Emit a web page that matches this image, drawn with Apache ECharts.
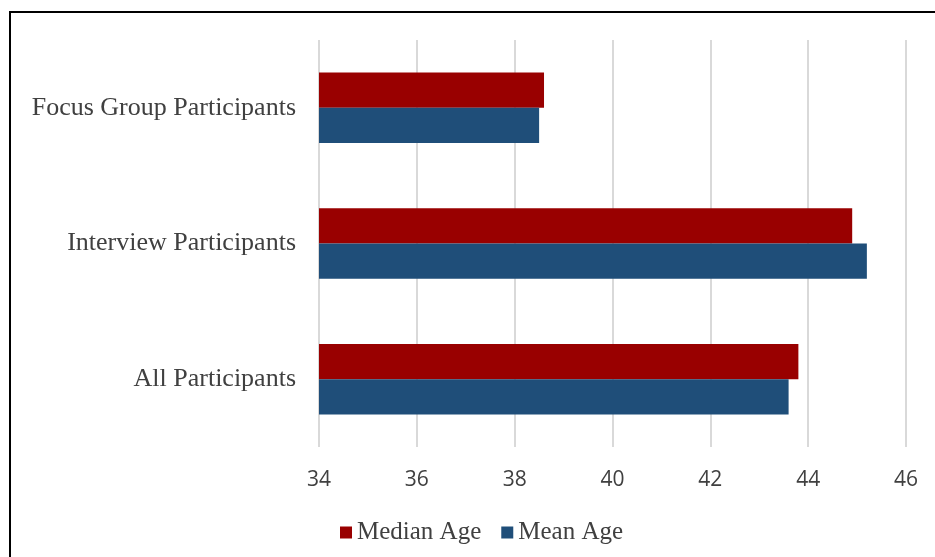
<!DOCTYPE html>
<html>
<head>
<meta charset="utf-8">
<script src="https://cdn.jsdelivr.net/npm/echarts@6/dist/echarts.min.js"></script>
<style>
html,body{margin:0;padding:0;background:#fff;}
#chart{width:935px;height:557px;}
</style>
</head>
<body>
<div id="chart"></div>
<script>
const categories = ['All Participants', 'Interview Participants', 'Focus Group Participants'];
const medianAge = [43.8, 44.9, 38.6];
const meanAge = [43.6, 45.2, 38.5];
const xTicks = { min: 34, max: 46, interval: 2 };

const chart = echarts.init(document.getElementById('chart'));
chart.setOption({
  animation: false,
  graphic: [{
    type: 'rect',
    shape: { x: 10, y: 12, width: 1000, height: 1000 },
    style: { fill: 'none', stroke: '#000', lineWidth: 2 },
    silent: true
  }],
  grid: { left: 319, right: 29, top: 40, bottom: 110, containLabel: false },
  legend: {
    data: ['Median Age', 'Mean Age'],
    top: 515,
    left: 335,
    itemWidth: 12,
    itemHeight: 12,
    itemGap: 20,
    icon: 'rect',
    textStyle: { fontFamily: 'Liberation Serif', fontSize: 25, color: '#404040' }
  },
  xAxis: {
    type: 'value',
    min: xTicks.min,
    max: xTicks.max,
    interval: xTicks.interval,
    axisLine: { show: false },
    axisTick: { show: false },
    splitLine: { show: true, lineStyle: { color: '#d9d9d9', width: 2 } },
    axisLabel: { fontFamily: 'Open Sans', fontSize: 21, color: '#404040', margin: 23 }
  },
  yAxis: {
    type: 'category',
    data: categories,
    axisLine: { show: false },
    axisTick: { show: false },
    axisLabel: { fontFamily: 'Liberation Serif', fontSize: 26, color: '#404040', margin: 23 }
  },
  series: [
    { name: 'Median Age', type: 'bar', data: medianAge, itemStyle: { color: '#990000' }, barGap: '0%', barCategoryGap: '48%' },
    { name: 'Mean Age', type: 'bar', data: meanAge, itemStyle: { color: '#1f4e79' }, barGap: '0%', barCategoryGap: '48%' }
  ]
});
</script>
</body>
</html>
